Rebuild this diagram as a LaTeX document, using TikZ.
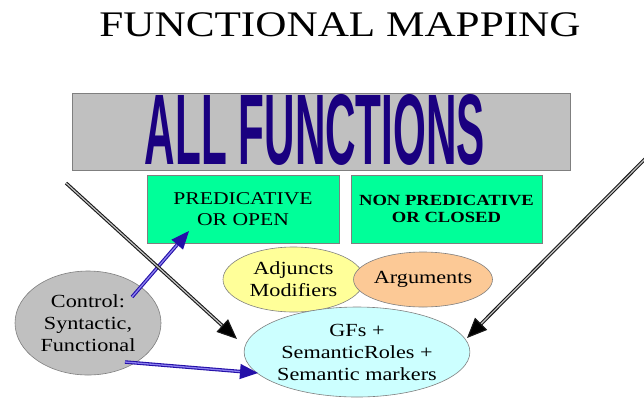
\documentclass[tikz,border=0pt]{standalone}
\usepackage{fontspec}
\newfontfamily\titleserif{Liberation Serif}
\newfontfamily\wideserif[FakeStretch=1.2]{Liberation Serif}
\newfontfamily\bannerfont{Liberation Sans}
\usetikzlibrary{shapes.geometric,arrows.meta}

\definecolor{edgegray}{HTML}{7F7F7F}
\definecolor{panelgray}{HTML}{C0C0C0}
\definecolor{boxgreen}{HTML}{00FF99}
\definecolor{paleyellow}{HTML}{FFFF99}
\definecolor{paleorange}{HTML}{FCC996}
\definecolor{palecyan}{HTML}{CCFFFF}
\definecolor{bannerblue}{HTML}{1A0080}
\definecolor{linkblue}{HTML}{2410A8}
\definecolor{linklight}{HTML}{8C80F0}

\tikzset{
  blob/.style={ellipse, draw=edgegray, line width=0.6pt, inner sep=0pt,
    align=center, font=\wideserif\fontsize{18.5}{22}\selectfont},
  panel/.style={rectangle, draw=edgegray, line width=0.6pt, fill=boxgreen,
    inner sep=0pt, align=center},
  blackarrow/.style={draw=black!90, double=gray!45, double distance=1.2pt,
    line width=1.1pt, -{Triangle[length=20pt,width=17pt,fill=black]}},
  bluearrow/.style={draw=linkblue, double=linklight, double distance=1.3pt,
    line width=1.1pt, -{Triangle[length=18pt,width=15pt,fill=linkblue]}},
  bannertext/.style={inner sep=0pt, font=\bannerfont\bfseries}
}

\begin{document}
\begin{tikzpicture}[x=1pt,y=-1pt]
  \useasboundingbox (0,0) rectangle (644,397);

  % title
  \node[font=\wideserif\fontsize{36}{40}\selectfont, inner sep=0pt] (title) at (340,25) {FUNCTIONAL MAPPING};

  % banner
  \node[draw=edgegray, line width=0.8pt, fill=panelgray, minimum width=498pt,
        minimum height=77pt, inner sep=0pt] (allbox) at (321,131.5) {};
  \node[bannertext, text=bannerblue] (allfn) at (315,130) {\resizebox{340pt}{70pt}{ALL FUNCTIONS}};

  % the two kinds of function
  \node[panel, minimum width=192pt, minimum height=68pt,
        font=\wideserif\fontsize{18}{21}\selectfont] (pred) at (243,209) {PREDICATIVE\\OR OPEN};
  \node[panel, minimum width=191pt, minimum height=68pt,
        font=\wideserif\fontsize{15.5}{17}\selectfont\bfseries] (nonpred) at (446.5,209) {NON PREDICATIVE\\OR CLOSED};

  % ellipses
  \node[blob, fill=paleyellow, minimum width=141pt, minimum height=65pt] (adj) at (293.5,279.5) {Adjuncts\\Modifiers};
  \node[blob, fill=paleorange, minimum width=134pt, minimum height=55pt] (args) at (423,279.5) {Arguments};
  \node[blob, fill=palecyan, minimum width=220pt, minimum height=90pt] (gfs) at (357,352) {GFs +\\SemanticRoles +\\Semantic markers};
  \node[blob, fill=panelgray, minimum width=146pt, minimum height=104pt] (control) at (88,323) {Control:\\Syntactic,\\Functional};

  % arrow end points
  \coordinate (ctrlA) at (132,297);
  \coordinate (predIn) at (189,231);
  \coordinate (ctrlB) at (125,362);
  \coordinate (gfsIn) at (258,373);
  \coordinate (leftStart) at (66,183);
  \coordinate (leftTip) at (237,339);
  \coordinate (rightStart) at (646,158);
  \coordinate (rightTip) at (467,338);

  % connectors
  \draw[bluearrow] (ctrlA) -- (predIn);
  \draw[bluearrow] (ctrlB) -- (gfsIn);
  \draw[blackarrow] (leftStart) -- (leftTip);
  \draw[blackarrow] (rightStart) -- (rightTip);
\end{tikzpicture}
\end{document}
